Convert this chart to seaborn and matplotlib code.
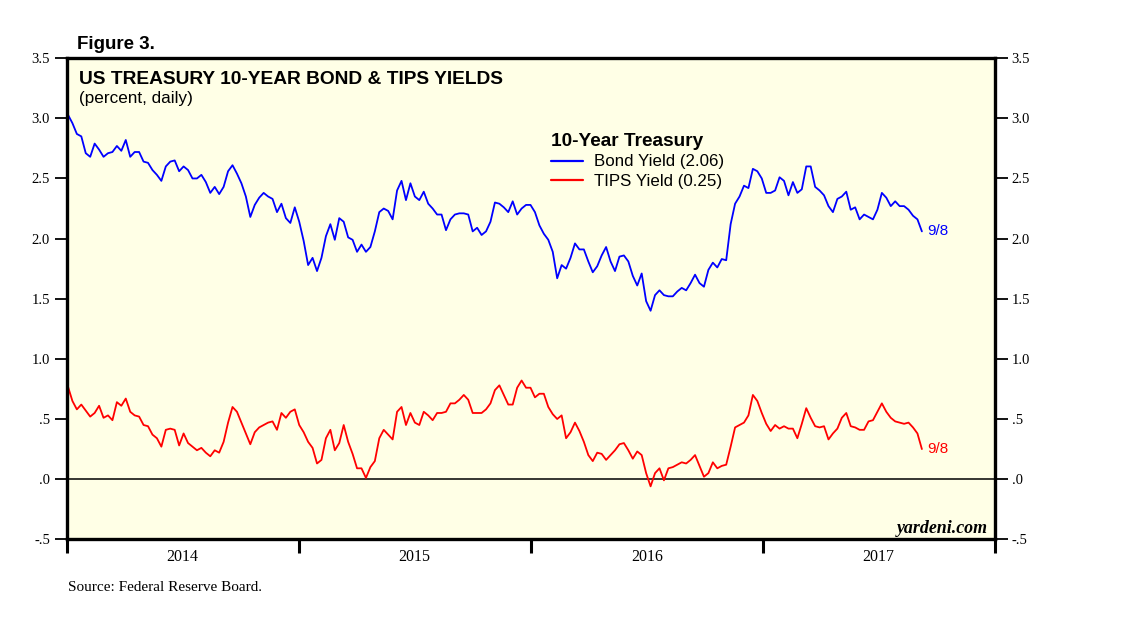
import pandas as pd
import numpy as np
import matplotlib
matplotlib.use("Agg")
import matplotlib.pyplot as plt
from matplotlib.lines import Line2D
from matplotlib.ticker import FuncFormatter
import seaborn as sns

# weekly readings (Fridays), 2014-01-03 .. 2017-09-08
start_date = "2014-01-03"
bond_yield = [
    3.03, 2.96, 2.87, 2.85, 2.71, 2.68, 2.79, 2.74, 2.68, 2.71,
    2.72, 2.77, 2.73, 2.82, 2.68, 2.72, 2.72, 2.64, 2.63, 2.57,
    2.53, 2.48, 2.60, 2.64, 2.65, 2.56, 2.60, 2.57, 2.50, 2.50,
    2.53, 2.47, 2.38, 2.43, 2.37, 2.43, 2.56, 2.61, 2.54, 2.46,
    2.35, 2.18, 2.28, 2.34, 2.38, 2.35, 2.33, 2.22, 2.29, 2.17,
    2.13, 2.26, 2.14, 1.98, 1.78, 1.84, 1.73, 1.84, 2.02, 2.12,
    1.99, 2.17, 2.14, 2.01, 1.99, 1.89, 1.95, 1.89, 1.93, 2.06,
    2.22, 2.25, 2.23, 2.16, 2.40, 2.48, 2.32, 2.46, 2.35, 2.32,
    2.39, 2.29, 2.25, 2.20, 2.20, 2.07, 2.16, 2.20, 2.21, 2.21,
    2.20, 2.06, 2.09, 2.03, 2.06, 2.14, 2.30, 2.29, 2.26, 2.22,
    2.31, 2.20, 2.25, 2.28, 2.28, 2.22, 2.11, 2.04, 1.99, 1.89,
    1.67, 1.78, 1.75, 1.84, 1.96, 1.91, 1.91, 1.81, 1.72, 1.77,
    1.86, 1.93, 1.81, 1.73, 1.85, 1.86, 1.81, 1.69, 1.61, 1.71,
    1.48, 1.40, 1.53, 1.57, 1.53, 1.52, 1.52, 1.56, 1.59, 1.57,
    1.63, 1.70, 1.63, 1.60, 1.74, 1.80, 1.76, 1.83, 1.82, 2.12,
    2.29, 2.35, 2.44, 2.42, 2.58, 2.56, 2.50, 2.38, 2.38, 2.40,
    2.51, 2.48, 2.36, 2.47, 2.38, 2.41, 2.60, 2.60, 2.43, 2.40,
    2.36, 2.27, 2.22, 2.33, 2.35, 2.39, 2.24, 2.26, 2.16, 2.20,
    2.18, 2.16, 2.24, 2.38, 2.34, 2.27, 2.31, 2.27, 2.27, 2.24,
    2.19, 2.16, 2.06,
]
tips_yield = [
    0.77, 0.65, 0.58, 0.62, 0.57, 0.52, 0.55, 0.61, 0.51, 0.53,
    0.49, 0.64, 0.61, 0.67, 0.56, 0.53, 0.52, 0.45, 0.44, 0.37,
    0.34, 0.27, 0.41, 0.42, 0.41, 0.28, 0.38, 0.30, 0.27, 0.24,
    0.26, 0.22, 0.19, 0.24, 0.22, 0.31, 0.47, 0.60, 0.56, 0.47,
    0.38, 0.29, 0.39, 0.43, 0.45, 0.47, 0.48, 0.41, 0.55, 0.51,
    0.56, 0.58, 0.45, 0.39, 0.31, 0.26, 0.13, 0.16, 0.34, 0.41,
    0.24, 0.30, 0.45, 0.31, 0.21, 0.09, 0.09, 0.01, 0.10, 0.15,
    0.34, 0.41, 0.37, 0.33, 0.56, 0.60, 0.45, 0.55, 0.47, 0.45,
    0.56, 0.53, 0.49, 0.55, 0.55, 0.56, 0.63, 0.63, 0.66, 0.70,
    0.66, 0.55, 0.55, 0.55, 0.58, 0.63, 0.74, 0.78, 0.70, 0.62,
    0.62, 0.76, 0.82, 0.76, 0.76, 0.68, 0.71, 0.71, 0.60, 0.54,
    0.50, 0.53, 0.34, 0.39, 0.47, 0.40, 0.31, 0.20, 0.15, 0.22,
    0.21, 0.16, 0.20, 0.24, 0.29, 0.30, 0.24, 0.17, 0.23, 0.20,
    0.05, -0.06, 0.05, 0.09, -0.01, 0.09, 0.10, 0.12, 0.14, 0.13,
    0.16, 0.20, 0.11, 0.02, 0.05, 0.14, 0.09, 0.11, 0.12, 0.27,
    0.43, 0.45, 0.47, 0.53, 0.70, 0.65, 0.55, 0.46, 0.40, 0.45,
    0.42, 0.44, 0.42, 0.42, 0.34, 0.46, 0.59, 0.51, 0.44, 0.43,
    0.44, 0.33, 0.38, 0.42, 0.51, 0.55, 0.44, 0.43, 0.41, 0.41,
    0.48, 0.49, 0.56, 0.63, 0.56, 0.51, 0.48, 0.47, 0.46, 0.47,
    0.43, 0.38, 0.25,
]
series_names = ["Bond Yield", "TIPS Yield"]
series_colors = ["#0000FF", "#FF0000"]
last_date_label = "9/8"
y_ticks = [-0.5, 0.0, 0.5, 1.0, 1.5, 2.0, 2.5, 3.0, 3.5]
years = [2014, 2015, 2016, 2017]

dates = pd.date_range(start_date, periods=len(bond_yield), freq="7D")
df = pd.DataFrame({"Date": dates, "Bond Yield": bond_yield, "TIPS Yield": tips_yield})
long_df = df.melt(id_vars="Date", var_name="Series", value_name="Yield")

sns.set_style("ticks")
plt.rcParams["font.family"] = ["Liberation Sans", "DejaVu Sans"]
plt.rcParams["text.color"] = "black"
plt.rcParams["xtick.color"] = "black"
plt.rcParams["ytick.color"] = "black"
plt.rcParams["xtick.labelcolor"] = "black"
plt.rcParams["ytick.labelcolor"] = "black"
serif = ["Liberation Serif", "DejaVu Serif"]

fig = plt.figure(figsize=(11.38, 6.23), dpi=100)
ax = fig.add_axes([0.0586, 0.1344, 0.8157, 0.7722])
ax.set_facecolor("#FFFFE6")

sns.lineplot(data=long_df, x="Date", y="Yield", hue="Series",
             palette=dict(zip(series_names, series_colors)),
             linewidth=1.3, ax=ax, legend=False)
ax.axhline(0, color="black", linewidth=1.1, zorder=1)

ax.set_xlim(pd.Timestamp("2014-01-01"), pd.Timestamp("2018-01-01"))
ax.set_ylim(-0.5, 3.5)
ax.set_xlabel("")
ax.set_ylabel("")

for s in ax.spines.values():
    s.set_visible(True)
    s.set_linewidth(2.4)
    s.set_color("black")

# y axis, both sides
ax.set_yticks(y_ticks)
def fmt(v, pos):
    t = f"{v:.1f}"
    return t.replace("0.", ".", 1) if abs(v) < 1 else t
ax.yaxis.set_major_formatter(FuncFormatter(fmt))
ax.tick_params(axis="y", which="major", left=True, right=True, labelleft=True,
               labelright=True, direction="out", length=9, width=1.3, pad=3,
               labelsize=10.5)

# x axis: year boundaries ticked, labels mid-year
ax.set_xticks([pd.Timestamp(f"{y}-01-01") for y in years + [2018]])
ax.set_xticks([pd.Timestamp(f"{y}-07-02") for y in years], minor=True)
ax.set_xticklabels([])
ax.set_xticklabels([str(y) for y in years], minor=True)
ax.tick_params(axis="x", which="major", direction="out", length=10, width=2.2)
ax.tick_params(axis="x", which="minor", length=0, pad=7, labelsize=11.5)
for lab in ax.get_yticklabels() + ax.get_xticklabels(minor=True):
    lab.set_fontfamily(serif)

# end labels
for name, col in zip(series_names, series_colors):
    ax.annotate(last_date_label, (df["Date"].iloc[-1], df[name].iloc[-1]),
                xytext=(4, 0), textcoords="offset points", va="center",
                ha="left", color=col, fontsize=11)

handles = [Line2D([0], [0], color=c, lw=1.6) for c in series_colors]
labels = [f"{n} ({df[n].iloc[-1]:.2f})" for n in series_names]
leg = ax.legend(handles, labels, title="10-Year Treasury", loc="upper left",
                bbox_to_anchor=(0.484, 0.787), bbox_transform=fig.transFigure,
                frameon=False, fontsize=12.2, handlelength=1.9, handletextpad=0.65,
                labelspacing=0.28, borderpad=0, borderaxespad=0,
                title_fontproperties={"weight": "bold", "size": 13.7},
                alignment="left")

ax.text(0.992, 0.014, "yardeni.com", transform=ax.transAxes, ha="right",
        va="baseline", fontsize=12.9, fontweight="bold", fontstyle="italic",
        fontfamily=serif)

fig.text(0.0677, 0.9213, "Figure 3.", fontsize=13.5, fontweight="bold", va="baseline")
fig.text(0.069, 0.8652, "US TREASURY 10-YEAR BOND & TIPS YIELDS", fontsize=13.8,
         fontweight="bold", va="baseline")
fig.text(0.069, 0.8347, "(percent, daily)", fontsize=12.3, va="baseline")
fig.text(0.0595, 0.0514, "Source: Federal Reserve Board.", fontsize=11,
         va="baseline", fontfamily=serif)

fig.savefig("out.png", dpi=100, facecolor="white")
